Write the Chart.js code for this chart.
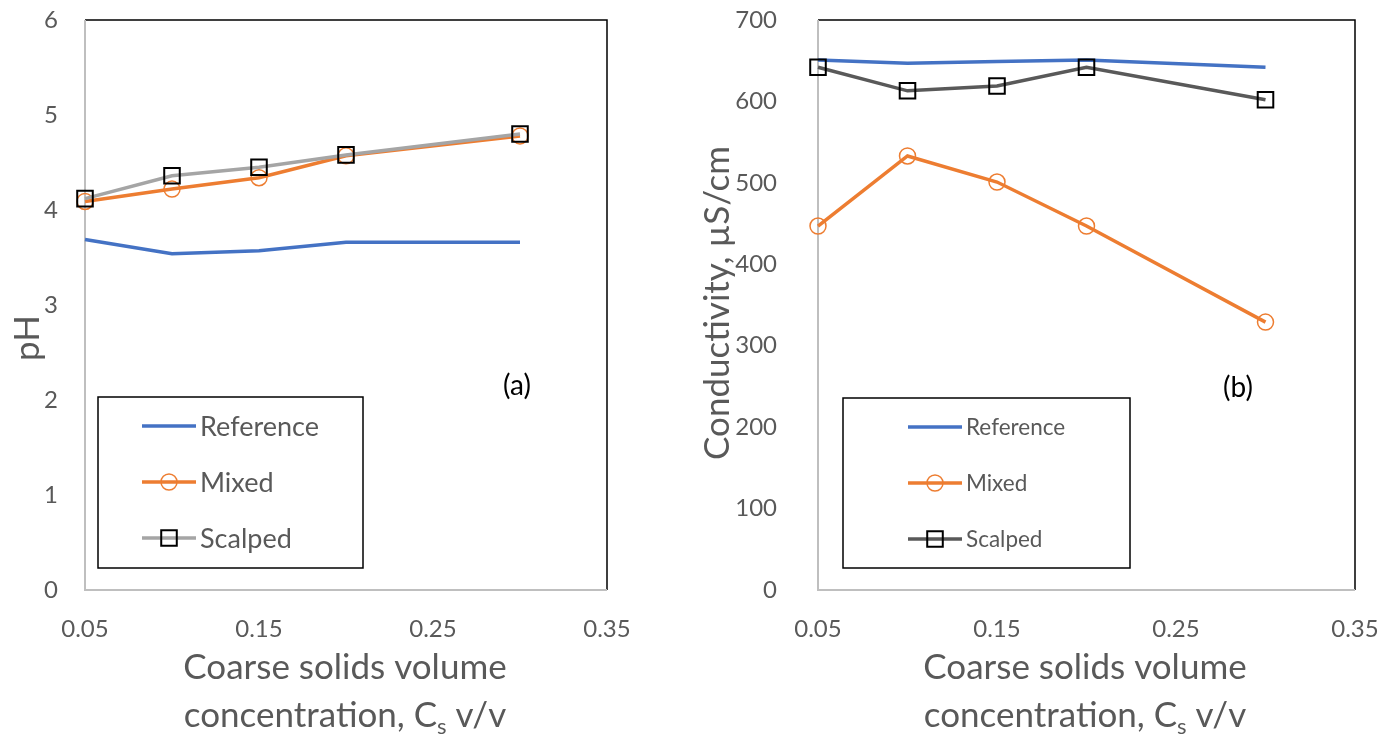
<!DOCTYPE html>
<html>
<head>
<meta charset="utf-8">
<script src="https://cdn.jsdelivr.net/npm/chart.js@4.4.0/dist/chart.umd.min.js"></script>
<style>
  html, body { margin: 0; padding: 0; background: #fff; }
  #wrap { position: relative; width: 1395px; height: 738px; }
  canvas { position: absolute; top: 0; }
</style>
</head>
<body>
<div id="wrap">
  <canvas id="phChart" width="697" height="738" style="left:0"></canvas>
  <canvas id="condChart" width="698" height="738" style="left:697px"></canvas>
</div>
<script>
// values
const xValues = [0.05, 0.1, 0.15, 0.2, 0.3];
const xTicks = [0.05, 0.15, 0.25, 0.35];

const phReference = [3.69, 3.54, 3.57, 3.66, 3.66];
const phMixed = [4.09, 4.22, 4.34, 4.57, 4.78];
const phScalped = [4.12, 4.36, 4.45, 4.58, 4.80];
const phTicks = [0, 1, 2, 3, 4, 5, 6];

const condReference = [651, 647, 649, 651, 642];
const condMixed = [447, 533, 501, 447, 329];
const condScalped = [642, 613, 619, 642, 602];
const condTicks = [0, 100, 200, 300, 400, 500, 600, 700];

const seriesNames = ['Reference', 'Mixed', 'Scalped'];

const FONT = 'Lato, "Open Sans", sans-serif';
const GREY_TEXT = '#595959';

function pairs(ys) {
  return xValues.map((x, i) => ({ x: x, y: ys[i] }));
}

function drawMarker(ctx, ds, x, y) {
  if (!ds.pointStyle || ds.pointRadius === 0) return;
  ctx.save();
  ctx.strokeStyle = ds.pointBorderColor;
  ctx.lineWidth = ds.pointBorderWidth;
  ctx.beginPath();
  if (ds.pointStyle === 'rect') {
    const s = Math.SQRT1_2 * ds.pointRadius;
    ctx.rect(x - s, y - s, 2 * s, 2 * s);
  } else {
    ctx.arc(x, y, ds.pointRadius, 0, Math.PI * 2);
  }
  ctx.stroke();
  ctx.restore();
}

// frame, legend box, panel letter and axis titles
const decorPlugin = {
  id: 'decor',
  beforeDatasetsDraw(chart) {
    const a = chart.chartArea;
    const ctx = chart.ctx;
    ctx.save();
    ctx.lineWidth = 1.5;
    ctx.strokeStyle = '#000';
    ctx.beginPath();
    ctx.moveTo(a.left, a.top);
    ctx.lineTo(a.right, a.top);
    ctx.lineTo(a.right, a.bottom);
    ctx.stroke();
    ctx.strokeStyle = '#bfbfbf';
    ctx.lineWidth = 2;
    ctx.beginPath();
    ctx.moveTo(a.left, a.top);
    ctx.lineTo(a.left, a.bottom);
    ctx.lineTo(a.right, a.bottom);
    ctx.stroke();
    ctx.restore();
  },
  afterDraw(chart, args, o) {
    const ctx = chart.ctx;
    ctx.save();

    // legend
    const L = o.legend;
    ctx.fillStyle = '#fff';
    ctx.fillRect(L.x, L.y, L.w, L.h);
    ctx.strokeStyle = '#000';
    ctx.lineWidth = 1.5;
    ctx.strokeRect(L.x, L.y, L.w, L.h);
    const dsets = chart.data.datasets;
    ctx.font = L.fontSize + 'px ' + FONT;
    ctx.textBaseline = 'middle';
    ctx.textAlign = 'left';
    dsets.forEach((ds, i) => {
      const y = L.rowY[i];
      ctx.strokeStyle = ds.borderColor;
      ctx.lineWidth = ds.borderWidth;
      ctx.beginPath();
      ctx.moveTo(L.lineX0, y);
      ctx.lineTo(L.lineX1, y);
      ctx.stroke();
      drawMarker(ctx, ds, (L.lineX0 + L.lineX1) / 2, y);
      ctx.fillStyle = GREY_TEXT;
      ctx.fillText(ds.label, L.lineX1 + 4, y + 1);
    });

    // panel letter
    ctx.fillStyle = '#000';
    ctx.font = o.letter.size + 'px ' + FONT;
    ctx.textAlign = 'center';
    ctx.fillText(o.letter.text, o.letter.x, o.letter.y);

    // y title
    ctx.fillStyle = GREY_TEXT;
    ctx.font = o.yTitle.size + 'px ' + FONT;
    ctx.save();
    ctx.translate(o.yTitle.x, o.yTitle.y);
    ctx.rotate(-Math.PI / 2);
    ctx.textAlign = 'center';
    ctx.fillText(o.yTitle.text, 0, 0);
    ctx.restore();

    // x title, two lines with subscript
    const xt = o.xTitle;
    ctx.font = xt.size + 'px ' + FONT;
    ctx.textAlign = 'center';
    ctx.fillText('Coarse solids volume', xt.x, xt.y1);
    const p1 = 'concentration, C';
    const sub = 's';
    const p2 = ' v/v';
    const subFont = Math.round(xt.size * 0.62) + 'px ' + FONT;
    const w1 = ctx.measureText(p1).width;
    const w3 = ctx.measureText(p2).width;
    ctx.font = subFont;
    const w2 = ctx.measureText(sub).width;
    let sx = xt.x - (w1 + w2 + w3) / 2;
    ctx.textAlign = 'left';
    ctx.font = xt.size + 'px ' + FONT;
    ctx.fillText(p1, sx, xt.y2);
    sx += w1;
    ctx.font = subFont;
    ctx.fillText(sub, sx, xt.y2 + xt.size * 0.3);
    sx += w2;
    ctx.font = xt.size + 'px ' + FONT;
    ctx.fillText(p2, sx, xt.y2);

    ctx.restore();
  }
};

function makeChart(id, cfg) {
  const datasets = [
    {
      label: seriesNames[0], data: pairs(cfg.ref), borderColor: '#4472C4', borderWidth: 3.5,
      pointRadius: 0, pointStyle: false, order: 3
    },
    {
      label: seriesNames[1], data: pairs(cfg.mixed), borderColor: '#ED7D31', borderWidth: 3.5,
      pointStyle: 'circle', pointRadius: 8, pointBorderWidth: 1.5,
      pointBorderColor: '#ED7D31', pointBackgroundColor: 'rgba(0,0,0,0)', order: 2
    },
    {
      label: seriesNames[2], data: pairs(cfg.scalped), borderColor: cfg.scalpedColor, borderWidth: 3.5,
      pointStyle: 'rect', pointRadius: 11, pointBorderWidth: 2,
      pointBorderColor: '#000', pointBackgroundColor: 'rgba(0,0,0,0)', order: 1
    }
  ];
  return new Chart(document.getElementById(id), {
    type: 'line',
    data: { datasets: datasets },
    options: {
      responsive: false,
      animation: false,
      clip: false,
      layout: { padding: cfg.padding },
      plugins: {
        legend: { display: false },
        tooltip: { enabled: false },
        decor: cfg.decor
      },
      elements: { line: { tension: 0 } },
      scales: {
        x: {
          type: 'linear', min: 0.05, max: 0.35,
          grid: { display: false, drawTicks: false },
          border: { display: false },
          afterBuildTicks: s => { s.ticks = xTicks.map(v => ({ value: v })); },
          afterFit: s => { s.height = cfg.xAxisHeight; s.paddingLeft = 0; s.paddingRight = 0; },
          ticks: {
            padding: 25, color: GREY_TEXT, font: { family: FONT, size: 24 },
            callback: v => v.toFixed(2)
          }
        },
        y: {
          type: 'linear', min: cfg.yTicks[0], max: cfg.yTicks[cfg.yTicks.length - 1],
          grid: { display: false, drawTicks: false },
          border: { display: false },
          afterBuildTicks: s => { s.ticks = cfg.yTicks.map(v => ({ value: v })); },
          afterFit: s => { s.width = cfg.yAxisWidth; s.paddingTop = 0; s.paddingBottom = 0; },
          ticks: { padding: cfg.yPad, color: GREY_TEXT, font: { family: FONT, size: 24 } }
        }
      }
    },
    plugins: [decorPlugin]
  });
}

makeChart('phChart', {
  ref: phReference, mixed: phMixed, scalped: phScalped, scalpedColor: '#A5A5A5',
  yTicks: phTicks, yAxisWidth: 85, xAxisHeight: 148, yPad: 27,
  padding: { left: 0, right: 90, top: 20, bottom: 0 },
  decor: {
    legend: { x: 98, y: 397, w: 265, h: 171, lineX0: 142, lineX1: 196, rowY: [426, 482, 538], fontSize: 27 },
    letter: { text: '(a)', x: 517, y: 386, size: 28 },
    yTitle: { text: 'pH', x: 28, y: 338, size: 35 },
    xTitle: { x: 345, y1: 668, y2: 716, size: 35 }
  }
});

makeChart('condChart', {
  ref: condReference, mixed: condMixed, scalped: condScalped, scalpedColor: '#595959',
  yTicks: condTicks, yAxisWidth: 121, xAxisHeight: 148, yPad: 41,
  padding: { left: 0, right: 40, top: 20, bottom: 0 },
  decor: {
    legend: { x: 146, y: 398, w: 287, h: 170, lineX0: 211, lineX1: 265, rowY: [427, 483, 539], fontSize: 22.5 },
    letter: { text: '(b)', x: 541, y: 388, size: 28 },
    yTitle: { text: 'Conductivity, µS/cm', x: 21, y: 303, size: 35 },
    xTitle: { x: 388, y1: 668, y2: 716, size: 35 }
  }
});
</script>
</body>
</html>
